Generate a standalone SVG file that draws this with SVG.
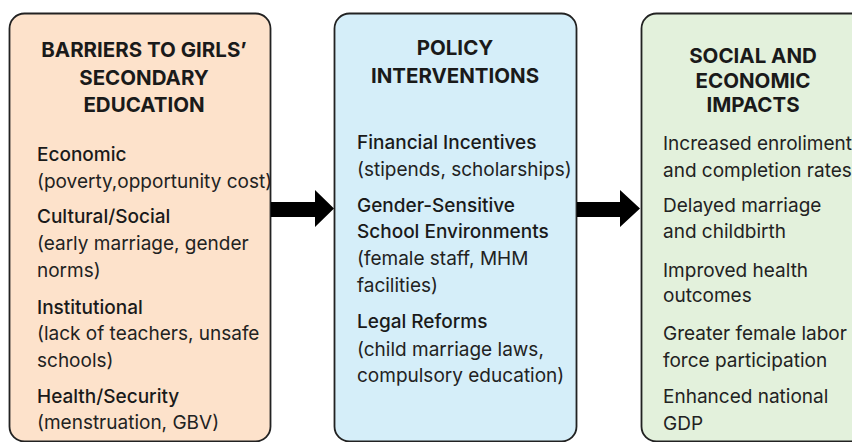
<svg xmlns="http://www.w3.org/2000/svg" width="852" height="442" viewBox="0 0 852 442">
<style>
.box{stroke:#222;stroke-width:1.8}
.t{font-family:Inter,"Liberation Sans",sans-serif;font-weight:700;font-size:20.5px;fill:#1a1a1a;text-anchor:middle}
.h{font-family:Inter,"Liberation Sans",sans-serif;font-weight:500;font-size:19px;fill:#1a1a1a}
.b{font-family:Inter,"Liberation Sans",sans-serif;font-weight:400;font-size:19px;fill:#222}
</style>
<rect width="852" height="442" fill="#ffffff"/>
<g id="barriers">
<rect class="box" x="9.5" y="13.5" width="261" height="428" rx="15" fill="#FDE2CB"/>
<text class="t" x="144" y="57">BARRIERS TO GIRLS’</text>
<text class="t" x="144" y="85">SECONDARY</text>
<text class="t" x="144" y="112">EDUCATION</text>
<text class="h" x="37" y="161">Economic</text>
<text class="b" x="37" y="188">(poverty,opportunity cost)</text>
<text class="h" x="37" y="223">Cultural/Social</text>
<text class="b" x="37" y="250">(early marriage, gender</text>
<text class="b" x="37" y="277">norms)</text>
<text class="h" x="37" y="314">Institutional</text>
<text class="b" x="37" y="340">(lack of teachers, unsafe</text>
<text class="b" x="37" y="367">schools)</text>
<text class="h" x="37" y="403">Health/Security</text>
<text class="b" x="37" y="429">(menstruation, GBV)</text>
</g>
<g id="policy">
<rect class="box" x="334.5" y="13.5" width="242" height="428" rx="15" fill="#D5EEF9"/>
<text class="t" x="455" y="55">POLICY</text>
<text class="t" x="455" y="83">INTERVENTIONS</text>
<text class="h" x="357" y="149">Financial Incentives</text>
<text class="b" x="357" y="176">(stipends, scholarships)</text>
<text class="h" x="357" y="212">Gender-Sensitive</text>
<text class="h" x="357" y="238">School Environments</text>
<text class="b" x="357" y="265">(female staff, MHM</text>
<text class="b" x="357" y="292">facilities)</text>
<text class="h" x="357" y="328">Legal Reforms</text>
<text class="b" x="357" y="356">(child marriage laws,</text>
<text class="b" x="357" y="382">compulsory education)</text>
</g>
<g id="impacts">
<rect class="box" x="641.5" y="13.5" width="230" height="428" rx="15" fill="#E3F1DC"/>
<text class="t" x="753" y="63">SOCIAL AND</text>
<text class="t" x="753" y="88">ECONOMIC</text>
<text class="t" x="753" y="112">IMPACTS</text>
<text class="b" x="663" y="150">Increased enroliment</text>
<text class="b" x="663" y="177">and completion rates</text>
<text class="b" x="663" y="212">Delayed marriage</text>
<text class="b" x="663" y="238">and childbirth</text>
<text class="b" x="663" y="277">Improved health</text>
<text class="b" x="663" y="302">outcomes</text>
<text class="b" x="663" y="340">Greater female labor</text>
<text class="b" x="663" y="367">force participation</text>
<text class="b" x="663" y="403">Enhanced national</text>
<text class="b" x="663" y="430">GDP</text>
</g>
<g id="connectors" fill="#000">
<polygon points="271,202 315,202 315,190 334,208.5 315,227 315,217 271,217"/>
<polygon points="577,202 620,202 620,190 640,208.5 620,227 620,217 577,217"/>
</g>
</svg>
